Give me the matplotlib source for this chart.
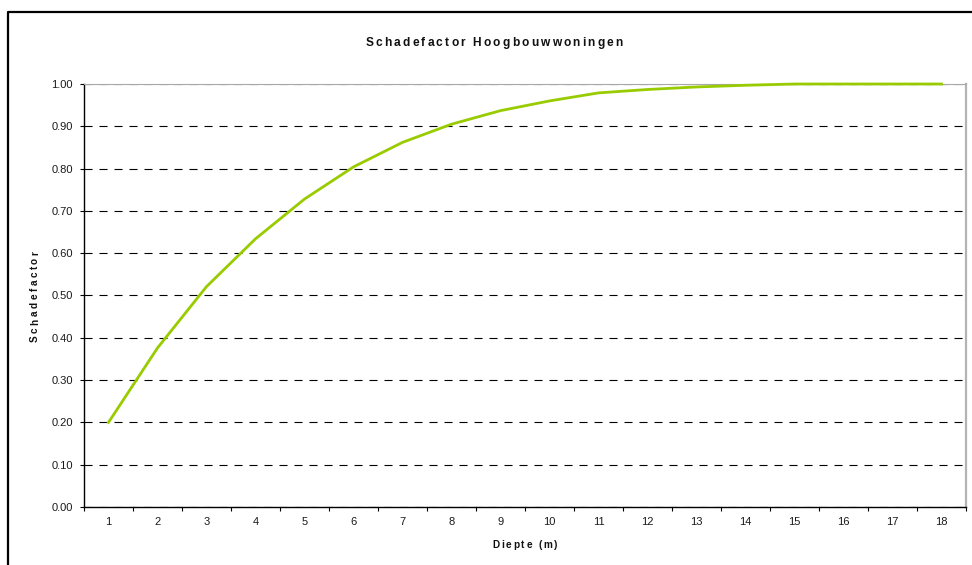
import matplotlib
matplotlib.use("Agg")
import matplotlib.pyplot as plt
from matplotlib.font_manager import FontProperties
from matplotlib.lines import Line2D
from matplotlib.ticker import MultipleLocator, FixedLocator, FormatStrFormatter

# Depth categories (m) and damage factor per depth
diepte = list(range(1, 19))
schadefactor = [0.20, 0.376, 0.521, 0.634, 0.728, 0.804, 0.862, 0.905, 0.937,
                0.960, 0.979, 0.987, 0.993, 0.997, 1.00, 1.00, 1.00, 1.00]

title = "Schadefactor Hoogbouwwoningen"
xlabel = "Diepte (m)"
ylabel = "Schadefactor"

W, H, DPI = 972, 565, 100
FONT = "Liberation Sans"
plt.rcParams["font.family"] = [FONT, "DejaVu Sans"]
plt.rcParams["lines.scale_dashes"] = False

fig = plt.figure(figsize=(W / DPI, H / DPI), dpi=DPI)
fig.patch.set_facecolor("white")

# Plot area in pixel terms: left 84, right 966, top 84, bottom 507
ax = fig.add_axes([84 / W, (H - 507) / H, (966 - 84) / W, (507 - 84) / H])
ax.set_xlim(0.5, len(diepte) + 0.5)
ax.set_ylim(0, 1.0)

# Dashed horizontal gridlines
ax.yaxis.grid(True, color="black", linewidth=0.8, linestyle=(0, (5.8, 5.0)))
ax.xaxis.grid(False)
ax.set_axisbelow(True)

ax.plot(diepte, schadefactor, color="#99CC00", linewidth=2.0,
        solid_joinstyle="round", zorder=3, clip_on=False)

# Spines
ax.spines["left"].set_color("black")
ax.spines["left"].set_linewidth(1.0)
ax.spines["bottom"].set_color("black")
ax.spines["bottom"].set_linewidth(1.0)
ax.spines["right"].set_color("#b4b4b4")
ax.spines["right"].set_linewidth(1.6)
ax.spines["top"].set_color("#a8a8a8")
ax.spines["top"].set_linewidth(0.8)

# Y ticks
ax.yaxis.set_major_locator(MultipleLocator(0.1))
ax.yaxis.set_major_formatter(FormatStrFormatter("%.2f"))
ax.tick_params(axis="y", which="major", direction="out", length=3,
               width=0.8, color="black", pad=5.0, labelsize=8,
               labelcolor="#1a1a1a")

# X ticks: labels at category centres, marks between categories
ax.xaxis.set_major_locator(FixedLocator(diepte))
ax.set_xticklabels([str(d) for d in diepte])
ax.xaxis.set_minor_locator(FixedLocator([d + 0.5 for d in [0] + diepte]))
ax.tick_params(axis="x", which="major", length=0, pad=7.5, labelsize=8,
               labelcolor="#1a1a1a")
ax.tick_params(axis="x", which="minor", direction="out", length=3,
               width=0.8, color="black")

# Outer chart frame
fig.add_artist(Line2D([8 / W, 8 / W, 1.0], [0.0, 1 - 12 / H, 1 - 12 / H],
                      transform=fig.transFigure, color="black", linewidth=1.6))


def spaced_text(s, x, y, size, weight="bold", gap=2.0, rotation=0):
    """Draw text with extra letter spacing; x, y are pixel coords of the
    string centre (along the baseline) measured from the top-left corner."""
    renderer = fig.canvas.get_renderer()
    fp = FontProperties(family=FONT, size=size, weight=weight)

    def width(t):
        return renderer.get_text_width_height_descent(t, fp, ismath=False)[0]

    base = width("II")
    adv = [width("I" + ch + "I") - base for ch in s]
    total = sum(adv) + gap * (len(s) - 1)
    pos = -total / 2.0
    for ch, a in zip(s, adv):
        c = pos + a / 2.0
        if rotation == 0:
            px, py = x + c, y
        else:
            px, py = x, y - c
        fig.text(px / W, 1 - py / H, ch, fontproperties=fp, ha="center",
                 va="baseline", rotation=rotation, rotation_mode="anchor",
                 color="#111111")
        pos += a + gap


spaced_text(title, 494, 46, 8.6, gap=2.2)
spaced_text(xlabel, 525, 548, 7.2, gap=1.8)
spaced_text(ylabel, 38, 296.5, 7.2, gap=2.5, rotation=90)

fig.savefig("out.png", dpi=DPI, facecolor="white")
